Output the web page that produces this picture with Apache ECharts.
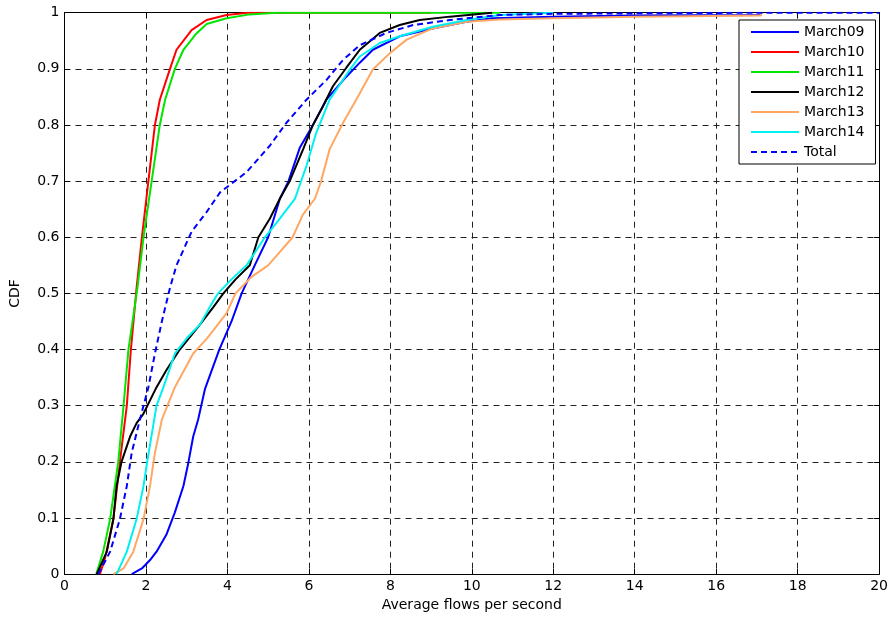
<!DOCTYPE html>
<html>
<head>
<meta charset="utf-8">
<script src="https://cdn.jsdelivr.net/npm/echarts@6/dist/echarts.min.js"></script>
<style>
html,body{margin:0;padding:0;background:#fff;overflow:hidden;}
#chart{width:891px;height:617px;}
</style>
</head>
<body>
<div id="chart"></div>
<script>
// x tick values and y tick values
const xTicks = [0, 2, 4, 6, 8, 10, 12, 14, 16, 18, 20];
const yTicks = [0, 0.1, 0.2, 0.3, 0.4, 0.5, 0.6, 0.7, 0.8, 0.9, 1];

const seriesNames = ['March09', 'March10', 'March11', 'March12', 'March13', 'March14', 'Total'];

const march09 = [[1.65,0],[1.9,0.01],[2.1,0.025],[2.26,0.04],[2.5,0.07],[2.71,0.11],[2.92,0.157],[3.04,0.198],[3.16,0.245],[3.28,0.275],[3.45,0.33],[3.8,0.4],[4.1,0.45],[4.35,0.5],[4.67,0.55],[5.0,0.6],[5.29,0.669],[5.5,0.7],[5.78,0.76],[6.1,0.8],[6.43,0.845],[6.92,0.886],[7.25,0.911],[7.57,0.934],[8.23,0.958],[9.04,0.972],[9.87,0.984],[10.5,0.99],[12,0.993],[14,0.995],[17.1,0.996],[17.1,1]];
const march10 = [[0.87,0],[1.0,0.03],[1.2,0.098],[1.36,0.2],[1.53,0.3],[1.63,0.4],[1.77,0.51],[1.9,0.6],[2.06,0.7],[2.22,0.8],[2.34,0.845],[2.59,0.9],[2.75,0.934],[3.12,0.969],[3.49,0.987],[3.98,0.996],[4.5,1],[9,1]];
const march11 = [[0.78,0],[0.95,0.04],[1.12,0.098],[1.32,0.2],[1.45,0.3],[1.57,0.4],[1.79,0.51],[1.94,0.6],[2.14,0.7],[2.34,0.8],[2.47,0.845],[2.71,0.9],[2.92,0.934],[3.24,0.963],[3.49,0.98],[3.98,0.99],[4.55,0.997],[5.2,1],[10.7,1]];
const march12 = [[0.79,0],[1.04,0.04],[1.2,0.098],[1.28,0.157],[1.4,0.2],[1.61,0.245],[1.77,0.269],[1.94,0.286],[2.26,0.333],[2.5,0.363],[2.83,0.4],[3.33,0.445],[3.65,0.475],[3.9,0.5],[4.2,0.525],[4.55,0.55],[4.76,0.6],[5.04,0.633],[5.29,0.669],[5.53,0.7],[5.86,0.757],[6.1,0.8],[6.35,0.834],[6.59,0.869],[6.92,0.902],[7.25,0.934],[7.74,0.964],[8.23,0.978],[8.72,0.987],[9.46,0.993],[10.5,1]];
const march13 = [[1.2,0],[1.45,0.01],[1.69,0.04],[1.94,0.098],[2.1,0.157],[2.22,0.216],[2.39,0.275],[2.71,0.333],[3.16,0.393],[3.5,0.42],[3.98,0.465],[4.2,0.5],[4.6,0.53],[5.0,0.55],[5.3,0.575],[5.6,0.6],[5.85,0.64],[6.15,0.669],[6.3,0.7],[6.51,0.757],[6.84,0.804],[7.2,0.85],[7.57,0.899],[7.99,0.928],[8.4,0.952],[9.04,0.972],[9.87,0.984],[10.69,0.988],[12,0.99],[14,0.993],[17.1,0.995],[17.1,1]];
const march14 = [[1.28,0],[1.53,0.04],[1.77,0.098],[1.94,0.157],[2.03,0.2],[2.26,0.3],[2.43,0.333],[2.71,0.393],[3.0,0.42],[3.33,0.445],[3.6,0.48],[3.77,0.5],[4.1,0.525],[4.47,0.55],[4.92,0.6],[5.2,0.625],[5.66,0.669],[5.94,0.727],[6.18,0.786],[6.51,0.845],[7.0,0.898],[7.25,0.922],[7.74,0.946],[8.23,0.958],[9.04,0.975],[9.87,0.987],[10.69,0.996],[12,1]];
const total = [[0.83,0],[1.12,0.04],[1.36,0.098],[1.53,0.157],[1.65,0.216],[1.85,0.275],[2.06,0.333],[2.22,0.393],[2.39,0.45],[2.59,0.51],[2.75,0.55],[3.12,0.61],[3.49,0.645],[3.82,0.68],[4.47,0.716],[5.04,0.763],[5.45,0.804],[5.94,0.845],[6.43,0.88],[6.84,0.916],[7.25,0.942],[7.9,0.964],[8.56,0.978],[9.46,0.987],[10.69,0.996],[12,0.998],[17.1,1],[20,1]];

const seriesData = [march09, march10, march11, march12, march13, march14, total];
const colors = ['#0000ff', '#ff0000', '#00e600', '#000000', '#ffa864', '#00f0f0', '#0000ff'];

const FONT = 'DejaVu Sans';
const chart = echarts.init(document.getElementById('chart'), null, {renderer: 'canvas', width: 891, height: 617});

const series = seriesNames.map((name, i) => ({
  name: name,
  type: 'line',
  data: seriesData[i],
  xAxisIndex: 0,
  yAxisIndex: 0,
  symbol: 'none',
  smooth: false,
  z: i === 6 ? 10 : 3 + i,
  lineStyle: {color: colors[i], width: 2, type: i === 6 ? [6, 4] : 'solid'},
  itemStyle: {color: colors[i]}
}));

const gridLine = {show: true, lineStyle: {color: '#222', width: 1, type: [6, 5]}};

chart.setOption({
  animation: false,
  backgroundColor: '#fff',
  grid: {left: 64.5, top: 12.7, width: 815, height: 566, containLabel: false},
  legend: {
    data: seriesNames,
    orient: 'vertical',
    left: 739,
    top: 20,
    backgroundColor: '#fff',
    borderColor: '#000',
    borderWidth: 1,
    padding: [5, 11, 5, 11],
    itemWidth: 48,
    itemHeight: 14,
    itemGap: 6,
    itemStyle: {opacity: 0},
    textStyle: {fontFamily: FONT, fontSize: 14, color: '#000'}
  },
  xAxis: [{
    type: 'value', position: 'bottom', min: 0, max: 20, interval: 2,
    name: 'Average flows per second', nameLocation: 'middle', nameGap: 21,
    nameTextStyle: {fontFamily: FONT, fontSize: 14, color: '#000'},
    axisLine: {show: true, onZero: false, lineStyle: {color: '#000', width: 1}},
    axisTick: {show: true, inside: true, length: 5, lineStyle: {color: '#000'}},
    axisLabel: {show: true, margin: 5, fontFamily: FONT, fontSize: 14, color: '#000',
      formatter: v => xTicks.includes(v) ? String(v) : ''},
    splitLine: gridLine
  }, {
    type: 'value', position: 'top', min: 0, max: 20, interval: 2,
    axisLine: {show: true, onZero: false, lineStyle: {color: '#000', width: 1}},
    axisTick: {show: true, inside: true, length: 5, lineStyle: {color: '#000'}},
    axisLabel: {show: false},
    splitLine: {show: false}
  }],
  yAxis: [{
    type: 'value', position: 'left', min: 0, max: 1, interval: 0.1,
    name: 'CDF', nameLocation: 'middle', nameGap: 42,
    nameTextStyle: {fontFamily: FONT, fontSize: 14, color: '#000'},
    axisLine: {show: true, onZero: false, lineStyle: {color: '#000', width: 1}},
    axisTick: {show: true, inside: true, length: 5, lineStyle: {color: '#000'}},
    axisLabel: {show: true, margin: 5, fontFamily: FONT, fontSize: 14, color: '#000',
      formatter: v => {
        const t = yTicks.find(k => Math.abs(k - v) < 1e-6);
        if (t === undefined) return '';
        return (t === 0 || t === 1) ? String(t) : t.toFixed(1);
      }},
    splitLine: gridLine
  }, {
    type: 'value', position: 'right', min: 0, max: 1, interval: 0.1,
    axisLine: {show: true, onZero: false, lineStyle: {color: '#000', width: 1}},
    axisTick: {show: true, inside: true, length: 5, lineStyle: {color: '#000'}},
    axisLabel: {show: false},
    splitLine: {show: false}
  }],
  series: series
});
</script>
</body>
</html>
